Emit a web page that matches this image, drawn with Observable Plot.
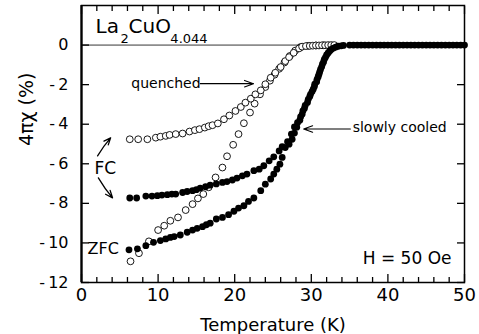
<!DOCTYPE html>
<html>
<head>
<meta charset="utf-8">
<script src="https://cdn.jsdelivr.net/npm/d3@7"></script>
<script src="https://cdn.jsdelivr.net/npm/@observablehq/plot@0.6"></script>
<style>
  body { margin: 0; background: #fff; }
</style>
</head>
<body>
<div id="chart"></div>
<script>
// La2CuO4.044 susceptibility, 4πχ (%) versus temperature (K), H = 50 Oe

// quenched sample, field cooled (open circles)
const tQuenchedFC = [6.3, 7.4, 8.6, 9.7, 10.3, 11.0, 11.5, 12.3, 13.2, 14.1, 14.8, 15.4, 16.1, 16.6, 17.1, 17.8, 18.6, 19.3, 20.1, 20.8, 21.4, 22.1, 22.7, 23.4, 24.0, 24.7, 25.3, 26.0, 26.6, 27.1, 27.7, 28.4, 28.8, 29.3, 29.8, 30.2, 30.6, 31.0, 31.4, 31.8, 32.2, 32.6, 33.0];
const chiQuenchedFC = [-4.76, -4.76, -4.76, -4.68, -4.63, -4.59, -4.54, -4.50, -4.47, -4.37, -4.30, -4.25, -4.17, -4.10, -4.05, -3.96, -3.75, -3.56, -3.33, -3.13, -2.91, -2.71, -2.49, -2.29, -1.98, -1.65, -1.40, -1.11, -0.81, -0.61, -0.39, -0.17, -0.08, -0.05, -0.04, -0.03, -0.02, -0.02, -0.01, -0.01, 0, 0, 0];

// quenched sample, zero field cooled (open circles)
const tQuenchedZFC = [6.4, 7.5, 8.8, 10.0, 10.8, 11.6, 12.6, 13.6, 14.5, 15.2, 15.9, 16.6, 17.5, 18.4, 19.0, 19.8, 20.5, 21.2, 22.0, 22.6, 23.3, 24.0, 24.6, 25.2, 25.8, 26.5, 27.2, 27.9, 28.6, 29.6, 30.6, 31.6];
const chiQuenchedZFC = [-10.93, -10.52, -9.92, -9.35, -9.13, -8.88, -8.71, -8.34, -8.04, -7.75, -7.53, -7.19, -6.69, -6.19, -5.62, -5.04, -4.50, -3.95, -3.41, -2.96, -2.49, -2.12, -1.80, -1.50, -1.20, -0.88, -0.55, -0.28, -0.10, -0.04, -0.02, -0.01];

// slowly cooled sample, field cooled (filled circles)
const tSlowFC = [6.3, 7.2, 8.4, 9.2, 9.9, 10.5, 11.2, 11.8, 12.3, 13.2, 13.8, 14.5, 15.0, 15.5, 16.2, 16.8, 17.6, 18.4, 19.0, 19.7, 20.3, 21.0, 21.6, 22.5, 23.2, 23.8, 24.5, 25.1, 25.8, 26.2, 26.9, 27.4, 27.8, 28.2, 28.6, 28.9, 29.2, 29.6, 29.9, 30.25, 30.45, 30.75, 31.0, 31.2, 31.45, 31.7, 32.0, 32.4, 32.9, 33.5, 34.2, 35.0, 35.5, 36.0, 36.5, 37.0, 37.5, 38.0, 38.5, 39.0, 39.5, 40.0, 40.5, 41.0, 41.5, 42.0, 42.5, 43.0, 43.5, 44.0, 44.5, 45.0, 45.5, 46.0, 46.5, 47.0, 47.5, 48.0, 48.5, 49.0, 49.5, 50.0];
const chiSlowFC = [-7.73, -7.73, -7.63, -7.63, -7.61, -7.58, -7.56, -7.53, -7.53, -7.45, -7.40, -7.36, -7.31, -7.23, -7.16, -7.08, -7.02, -6.94, -6.90, -6.82, -6.72, -6.61, -6.52, -6.35, -6.27, -6.10, -5.85, -5.65, -5.35, -5.14, -4.88, -4.50, -4.14, -3.92, -3.63, -3.33, -3.05, -2.74, -2.49, -2.23, -1.98, -1.73, -1.48, -1.23, -0.97, -0.72, -0.50, -0.30, -0.15, -0.06, -0.02, 0, 0, 0, 0, 0, 0, 0, 0, 0, 0, 0, 0, 0, 0, 0, 0, 0, 0, 0, 0, 0, 0, 0, 0, 0, 0, 0, 0, 0, 0, 0];

// slowly cooled sample, zero field cooled (filled circles)
const tSlowZFC = [6.2, 7.3, 8.4, 9.4, 10.3, 11.0, 11.6, 12.1, 12.9, 13.8, 14.5, 15.1, 15.8, 16.3, 16.8, 17.6, 18.4, 19.2, 19.9, 20.5, 21.2, 21.8, 22.5, 23.4, 24.0, 24.7, 25.1, 25.5, 25.9, 26.2, 26.6, 27.1, 27.5, 27.8, 28.1, 28.5, 28.8, 29.1, 29.5, 29.8, 30.1, 30.4, 30.7, 30.9, 31.1, 31.35, 31.6, 31.85, 32.2, 32.6, 33.2, 33.9];
const chiSlowZFC = [-10.35, -10.30, -10.14, -9.97, -9.88, -9.80, -9.72, -9.68, -9.60, -9.46, -9.35, -9.26, -9.18, -9.08, -9.00, -8.79, -8.71, -8.57, -8.40, -8.24, -8.12, -7.90, -7.73, -7.36, -7.03, -6.77, -6.52, -6.27, -6.02, -5.68, -5.18, -5.01, -4.76, -4.45, -4.15, -3.80, -3.50, -3.20, -2.90, -2.60, -2.35, -2.10, -1.85, -1.60, -1.35, -1.10, -0.85, -0.62, -0.40, -0.22, -0.10, -0.04];

// tick values
const xMajor = [0, 10, 20, 30, 40, 50];
const xMinor = [2, 4, 6, 8, 12, 14, 16, 18, 22, 24, 26, 28, 32, 34, 36, 38, 42, 44, 46, 48];
const yMajor = [-12, -10, -8, -6, -4, -2, 0];

const rows = (t, chi) => t.map((T, i) => ({T, chi: chi[i]}));
const quenchedFC = rows(tQuenchedFC, chiQuenchedFC);
const quenchedZFC = rows(tQuenchedZFC, chiQuenchedZFC);
const slowFC = rows(tSlowFC, chiSlowFC);
const slowZFC = rows(tSlowZFC, chiSlowZFC);

const font = "DejaVu Sans, sans-serif";
const blank = () => "";
const yLabel = d => d < 0 ? "-\u2009" + Math.abs(d) : String(d);

const label = (text, x, y, fontSize, extra = {}) =>
  Plot.text([text], {x, y, text: d => d, fontSize, textAnchor: "start", lineAnchor: "bottom", ...extra});

const chart = Plot.plot({
  width: 479,
  height: 334,
  marginLeft: 81,
  marginRight: 15,
  marginTop: 5,
  marginBottom: 52,
  x: {domain: [0, 50]},
  y: {domain: [-12, 2]},
  style: {fontFamily: font, background: "white", color: "black", overflow: "visible"},
  marks: [
    // zero reference line
    Plot.ruleY([0], {stroke: "black", strokeWidth: 0.8}),

    // axes: inward ticks on all four sides
    Plot.axisX(xMajor, {anchor: "bottom", tickSize: 0, tickPadding: 6, fontSize: 18, label: null}),
    Plot.axisX(xMajor, {anchor: "bottom", tickSize: -8, tickFormat: blank, label: null, strokeWidth: 1.3}),
    Plot.axisX(xMinor, {anchor: "bottom", tickSize: -5, tickFormat: blank, label: null, strokeWidth: 1.3}),
    Plot.axisX(xMajor, {anchor: "top", tickSize: -8, tickFormat: blank, label: null, strokeWidth: 1.3}),
    Plot.axisX(xMinor, {anchor: "top", tickSize: -5, tickFormat: blank, label: null, strokeWidth: 1.3}),
    Plot.axisY(yMajor, {anchor: "left", tickSize: 0, tickPadding: 13, fontSize: 16, tickFormat: yLabel, label: null}),
    Plot.axisY(yMajor, {anchor: "left", tickSize: -8, tickFormat: blank, label: null, strokeWidth: 1.3}),
    Plot.axisY(yMajor, {anchor: "right", tickSize: -8, tickFormat: blank, label: null, strokeWidth: 1.3}),
    Plot.frame({stroke: "black", strokeWidth: 1.5}),
    Plot.ruleX([0], {stroke: "black", strokeWidth: 2.2}),

    // axis titles
    Plot.text(["Temperature (K)"], {frameAnchor: "bottom", dy: 48, lineAnchor: "bottom", fontSize: 18}),
    Plot.text(["4πχ (%)"], {frameAnchor: "left", dx: -55, dy: 2, rotate: -90, fontSize: 19}),

    // data
    Plot.dot(quenchedZFC, {x: "T", y: "chi", r: 3.4, stroke: "black", fill: "white", strokeWidth: 0.9}),
    Plot.dot(quenchedFC, {x: "T", y: "chi", r: 3.4, stroke: "black", fill: "white", strokeWidth: 0.9}),
    Plot.dot(slowZFC, {x: "T", y: "chi", r: 3.4, fill: "black"}),
    Plot.dot(slowFC, {x: "T", y: "chi", r: 3.4, fill: "black"}),

    // sample label with subscripts
    label("La", 1.83, 0.6, 20),
    label("2", 5.1, 0.1, 13),
    label("CuO", 6.14, 0.6, 20),
    label("4.044", 11.6, 0.1, 13),

    // annotations
    label("quenched", 6.5, -2.17, 14),
    Plot.arrow([0], {x1: 15.5, y1: -1.95, x2: 22.45, y2: -1.95, headLength: 13, headAngle: 40, strokeWidth: 1.1}),
    label("slowly cooled", 35.4, -4.39, 14),
    Plot.arrow([0], {x1: 35.1, y1: -4.24, x2: 29.0, y2: -4.24, headLength: 13, headAngle: 40, strokeWidth: 1.1}),
    label("FC", 1.7, -6.5, 17),
    Plot.arrow([0], {x1: 2.1, y1: -5.6, x2: 3.8, y2: -4.69, bend: 5, headLength: 9, headAngle: 45, strokeWidth: 1.3}),
    Plot.arrow([0], {x1: 2.2, y1: -6.71, x2: 4.05, y2: -7.72, bend: -5, headLength: 9, headAngle: 45, strokeWidth: 1.3}),
    label("ZFC", 0.78, -10.54, 16),
    label("H = 50 Oe", 48.3, -11.04, 17, {textAnchor: "end"})
  ]
});

document.getElementById("chart").append(chart);
</script>
</body>
</html>
